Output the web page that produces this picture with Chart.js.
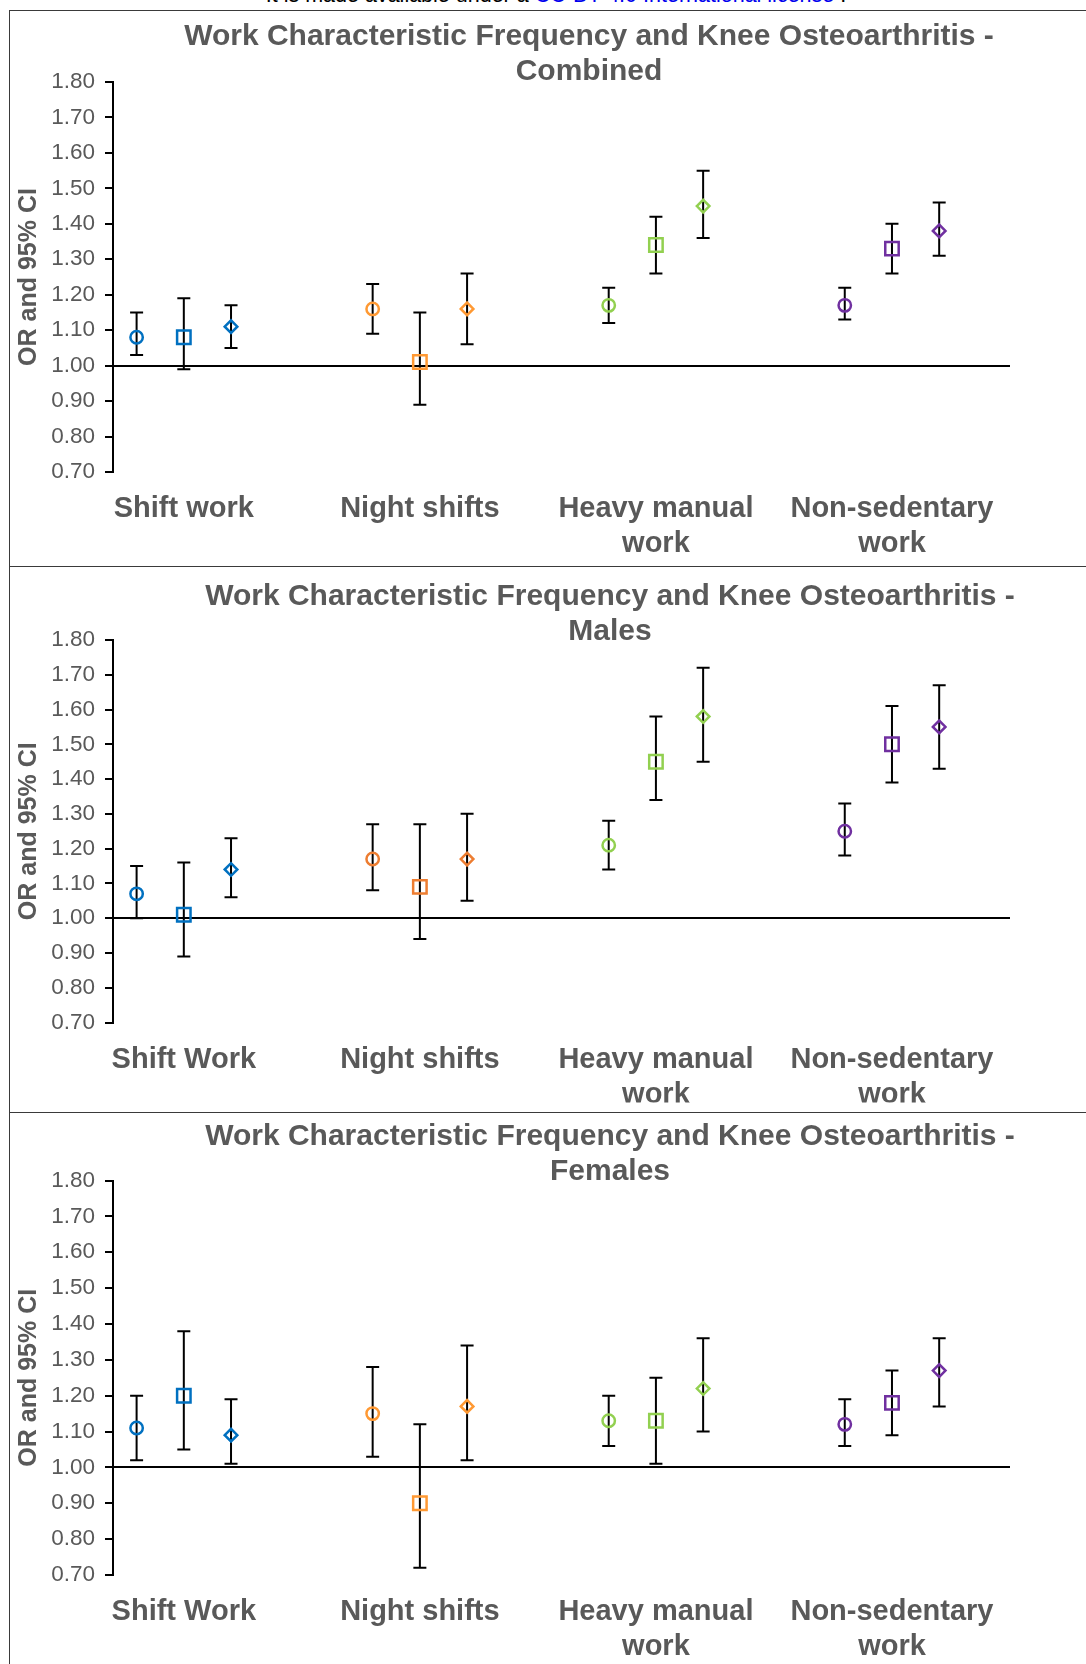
<!DOCTYPE html>
<html>
<head>
<meta charset="utf-8">
<script src="https://cdn.jsdelivr.net/npm/chart.js@4.4.1/dist/chart.umd.min.js"></script>
<style>
  body { margin: 0; background: #fff; width: 1086px; height: 1664px; overflow: hidden; position: relative; font-family: "Liberation Sans", Arial, sans-serif; }
  .header { position: absolute; top: -15.5px; left: 0; width: 1112px; text-align: center; font-size: 21.5px; line-height: 21.5px; color: #000; white-space: nowrap; }
  .header span { color: #0000ee; }
  .panel { position: absolute; left: 9px; width: 1100px; border-left: 1.5px solid #3a3a3a; border-top: 1.5px solid #3a3a3a; }
  .title { position: absolute; width: 900px; margin-left: -450px; text-align: center; font-weight: bold; font-size: 30px; line-height: 34.5px; color: #595959; white-space: nowrap; }
  canvas { position: absolute; left: 0; }
</style>
</head>
<body>
<div class="header">It is made available under a <span>CC-BY 4.0 International license</span> .</div>

<div class="panel" style="top:10px;height:556px"></div>
<div class="panel" style="top:566px;height:547px"></div>
<div class="panel" style="top:1112px;height:560px"></div>

<canvas id="c1" width="1086" height="555" style="top:11px"></canvas>
<canvas id="c2" width="1086" height="547" style="top:566px"></canvas>
<canvas id="c3" width="1086" height="551" style="top:1113px"></canvas>

<div class="title" style="left:589px;top:18px">Work Characteristic Frequency and Knee Osteoarthritis -<br>Combined</div>
<div class="title" style="left:610px;top:578px">Work Characteristic Frequency and Knee Osteoarthritis -<br>Males</div>
<div class="title" style="left:610px;top:1118px">Work Characteristic Frequency and Knee Osteoarthritis -<br>Females</div>

<script>
// categories
const categoriesCombined = ['Shift work', 'Night shifts', ['Heavy manual', 'work'], ['Non-sedentary', 'work']];
const categoriesSex = ['Shift Work', 'Night shifts', ['Heavy manual', 'work'], ['Non-sedentary', 'work']];
const yTicks = [0.70, 0.80, 0.90, 1.00, 1.10, 1.20, 1.30, 1.40, 1.50, 1.60, 1.70, 1.80];

// odds ratios and 95% CI, one row per category, three frequency levels each
const combinedOR = [[1.08, 1.08, 1.11], [1.16, 1.01, 1.16], [1.17, 1.34, 1.45], [1.17, 1.33, 1.38]];
const combinedLo = [[1.03, 0.99, 1.05], [1.09, 0.89, 1.06], [1.12, 1.26, 1.36], [1.13, 1.26, 1.31]];
const combinedHi = [[1.15, 1.19, 1.17], [1.23, 1.15, 1.26], [1.22, 1.42, 1.55], [1.22, 1.40, 1.46]];

const malesOR = [[1.07, 1.01, 1.14], [1.17, 1.09, 1.17], [1.21, 1.45, 1.58], [1.25, 1.50, 1.55]];
const malesLo = [[1.00, 0.89, 1.06], [1.08, 0.94, 1.05], [1.14, 1.34, 1.45], [1.18, 1.39, 1.43]];
const malesHi = [[1.15, 1.16, 1.23], [1.27, 1.27, 1.30], [1.28, 1.58, 1.72], [1.33, 1.61, 1.67]];

const femalesOR = [[1.11, 1.20, 1.09], [1.15, 0.90, 1.17], [1.13, 1.13, 1.22], [1.12, 1.18, 1.27]];
const femalesLo = [[1.02, 1.05, 1.01], [1.03, 0.72, 1.02], [1.06, 1.01, 1.10], [1.06, 1.09, 1.17]];
const femalesHi = [[1.20, 1.38, 1.19], [1.28, 1.12, 1.34], [1.20, 1.25, 1.36], [1.19, 1.27, 1.36]];

const colorsA = ['#0070C0', '#FF9933', '#92D050', '#7030A0'];
const colorsB = ['#0070C0', '#ED7D31', '#92D050', '#7030A0'];

const textGrey = '#595959';
const font = 'Liberation Sans, Arial, sans-serif';

// draw the CI whiskers under the markers
const errorBars = {
    id: 'errorBars',
    beforeDatasetsDraw(chart) {
        const ctx = chart.ctx;
        const y = chart.scales.y;
        ctx.save();
        ctx.strokeStyle = '#000';
        ctx.lineWidth = 2;
        chart.data.datasets.forEach((ds, i) => {
            chart.getDatasetMeta(i).data.forEach((pt, j) => {
                const top = y.getPixelForValue(ds.errHi[j]);
                const bot = y.getPixelForValue(ds.errLo[j]);
                ctx.beginPath();
                ctx.moveTo(pt.x, top); ctx.lineTo(pt.x, bot);
                ctx.moveTo(pt.x - 6.5, top); ctx.lineTo(pt.x + 6.5, top);
                ctx.moveTo(pt.x - 6.5, bot); ctx.lineTo(pt.x + 6.5, bot);
                ctx.stroke();
            });
        });
        ctx.restore();
    }
};

function makeChart(id, cats, or, lo, hi, colors, padTop, padBottom) {
    const datasets = cats.map((c, i) => ({
        data: or[i].map((v, k) => ({ x: i * 5 + k + 1, y: v })),
        errLo: lo[i],
        errHi: hi[i],
        pointStyle: ['circle', 'rect', 'rectRot'],
        pointRadius: [6.2, 9.5, 6.3],
        pointBorderWidth: 2.5,
        pointBorderColor: colors[i],
        pointBackgroundColor: 'rgba(0,0,0,0)',
        showLine: false
    }));
    const tickPos = cats.map((c, i) => i * 5 + 2);

    return new Chart(document.getElementById(id).getContext('2d'), {
        type: 'scatter',
        data: { datasets: datasets },
        plugins: [errorBars],
        options: {
            responsive: false,
            animation: false,
            events: [],
            layout: { padding: { top: padTop, bottom: padBottom, left: 0, right: 76 } },
            plugins: { legend: { display: false }, tooltip: { enabled: false } },
            scales: {
                x: {
                    type: 'linear',
                    min: 0.5,
                    max: 19.5,
                    afterBuildTicks: (scale) => { scale.ticks = tickPos.map(v => ({ value: v })); },
                    afterFit: (scale) => { scale.height = 80; },
                    grid: { display: false, drawTicks: false },
                    border: { display: false },
                    ticks: {
                        autoSkip: false,
                        maxRotation: 0,
                        padding: 20,
                        color: textGrey,
                        font: { family: font, size: 29, weight: 'bold', lineHeight: 1.2 },
                        callback: (v, i) => cats[i]
                    }
                },
                y: {
                    min: 0.7,
                    max: 1.8,
                    afterBuildTicks: (scale) => { scale.ticks = yTicks.map(v => ({ value: v })); },
                    afterFit: (scale) => { scale.width = 113; },
                    border: { display: true, color: '#000', width: 2 },
                    grid: {
                        drawOnChartArea: true,
                        color: (c) => Math.abs(c.tick.value - 1) < 1e-6 ? '#000' : 'rgba(0,0,0,0)',
                        lineWidth: 2,
                        tickColor: '#000',
                        tickWidth: 2,
                        tickLength: 8
                    },
                    ticks: {
                        padding: 10,
                        color: textGrey,
                        font: { family: font, size: 22.5 },
                        callback: (v) => v.toFixed(2)
                    },
                    title: {
                        display: true,
                        text: 'OR and 95% CI',
                        color: textGrey,
                        font: { family: font, size: 25, weight: 'bold', lineHeight: 1.2 },
                        padding: { top: 14, bottom: 0 }
                    }
                }
            }
        }
    });
}

makeChart('c1', categoriesCombined, combinedOR, combinedLo, combinedHi, colorsA, 71, 14);
makeChart('c2', categoriesSex, malesOR, malesLo, malesHi, colorsB, 74, 10.5);
makeChart('c3', categoriesSex, femalesOR, femalesLo, femalesHi, colorsA, 67.5, 9);
</script>
</body>
</html>
